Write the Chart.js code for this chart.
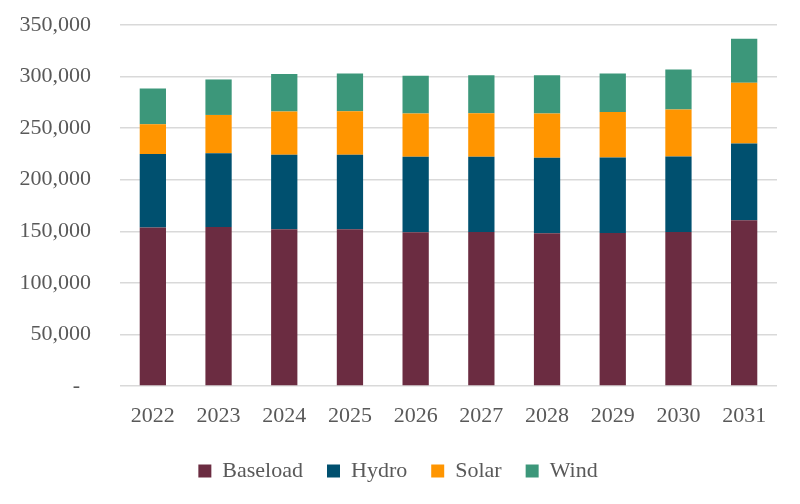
<!DOCTYPE html>
<html>
<head>
<meta charset="utf-8">
<script src="https://cdn.jsdelivr.net/npm/chart.js@4"></script>
<style>
  html, body { margin: 0; padding: 0; background: #fff; }
  #wrap { width: 800px; height: 504px; }
</style>
</head>
<body>
<div id="wrap"><canvas id="chart"></canvas></div>
<script>
const years = ['2022', '2023', '2024', '2025', '2026', '2027', '2028', '2029', '2030', '2031'];
const baseload = [153600, 154250, 152000, 152000, 149000, 149400, 148100, 148400, 149400, 160700];
const hydro    = [71300, 71300, 72300, 72250, 73300, 72900, 73250, 73250, 73200, 74300];
const solar    = [28900, 37250, 41800, 42150, 41800, 42150, 42750, 44050, 45400, 58900];
const wind     = [34700, 34400, 36300, 36600, 36600, 36950, 37300, 37300, 38900, 42800];

const serif = '"Liberation Serif", "DejaVu Serif", serif';

function fmt(v) {
  if (v === 0) return '-\u00A0\u00A0';
  return v.toLocaleString('en-US');
}

const ctx = document.getElementById('chart').getContext('2d');
new Chart(ctx, {
  type: 'bar',
  data: {
    labels: years,
    datasets: [
      { label: 'Baseload', data: baseload, backgroundColor: '#6B2C41' },
      { label: 'Hydro', data: hydro, backgroundColor: '#00506F' },
      { label: 'Solar', data: solar, backgroundColor: '#FF9500' },
      { label: 'Wind', data: wind, backgroundColor: '#3C977A' }
    ]
  },
  options: {
    responsive: true,
    maintainAspectRatio: false,
    animation: false,
    datasets: { bar: { barPercentage: 0.4, categoryPercentage: 1 } },
    layout: { padding: { left: 19, right: 23, top: 25, bottom: 12 } },
    plugins: {
      tooltip: { enabled: false },
      legend: {
        position: 'bottom',
        labels: {
          font: { family: serif, size: 22 },
          color: '#595959',
          boxWidth: 13,
          boxHeight: 13,
          padding: 24
        }
      }
    },
    scales: {
      x: {
        stacked: true,
        grid: { display: false, drawTicks: false },
        border: { display: false },
        ticks: { font: { family: serif, size: 22 }, color: '#595959', padding: 17 },
        afterFit: s => { s.height = 50; }
      },
      y: {
        stacked: true,
        min: 0,
        max: 350000,
        grid: { color: '#d9d9d9', lineWidth: 1.5, drawTicks: false },
        border: { display: false },
        ticks: {
          stepSize: 50000,
          font: { family: serif, size: 22 },
          color: '#595959',
          padding: 29,
          callback: v => fmt(v)
        },
        afterFit: s => {
          s.width = 101;
          s.paddingTop = 0;
          s.paddingBottom = 0;
        }
      }
    }
  }
});
</script>
</body>
</html>
